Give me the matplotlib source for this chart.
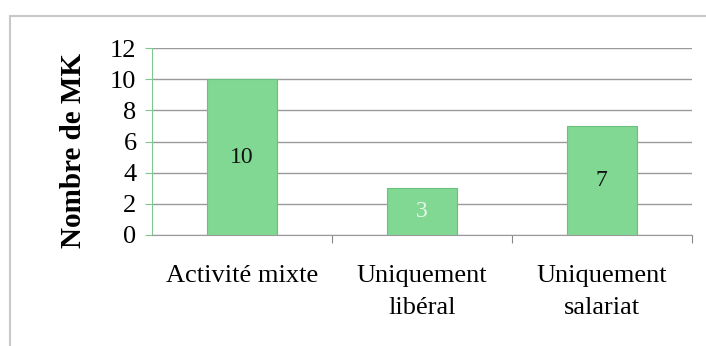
import matplotlib.pyplot as plt
from matplotlib.patches import Rectangle

# data
categories = ["Activité mixte", "Uniquement\nlibéral", "Uniquement\nsalariat"]
values = [10, 3, 7]
yticks = [0, 2, 4, 6, 8, 10, 12]

plt.rcParams['font.family'] = ['Liberation Serif', 'DejaVu Serif']

fig = plt.figure(figsize=(7.06, 3.46), dpi=100)
ax = fig.add_axes([0.215, 0.321, 0.765, 0.54])

x = range(len(categories))
bars = ax.bar(x, values, width=0.39, color='#80d892', edgecolor='#6cc07f', linewidth=0.8, zorder=3)

# value labels in the middle of the bars
for b, v in zip(bars, values):
    col = '#111111' if v != 3 else '#e6f7e9'
    ax.text(b.get_x() + b.get_width() / 2, v / 2, str(v), ha='center', va='center',
            fontsize=17, color=col, zorder=4)

ax.set_xlim(-0.5, len(categories) - 0.5)
ax.set_ylim(0, 12)
ax.set_yticks(yticks)
ax.tick_params(axis='y', labelsize=19, length=5, color='#7fc98f', pad=6)
ax.yaxis.grid(True, color='#9a9a9a', linewidth=1.0, zorder=0)

# categories sit between tick marks at the boundaries
ax.set_xticks([0.5, 1.5, 2.5])
ax.set_xticklabels([])
ax.set_xticks(list(x), minor=True)
ax.set_xticklabels(categories, minor=True, fontsize=19, linespacing=1.55)
ax.tick_params(axis='x', which='minor', length=0, pad=22)
ax.tick_params(axis='x', which='major', length=6, color='#888888')

ax.set_ylabel("Nombre de MK", fontsize=21, fontweight='bold', labelpad=8)
ax.yaxis.set_label_coords(-0.12, 0.45)

for s in ['top', 'right']:
    ax.spines[s].set_visible(False)
ax.spines['left'].set_color('#7fc98f')
ax.spines['bottom'].set_color('#9a9a9a')

# outer chart border
fig.patches.append(Rectangle((0.014, -0.05), 1.1, 1.005, transform=fig.transFigure,
                             fill=False, edgecolor='#c8c8c8', linewidth=1.5))

fig.savefig("out.png", dpi=100)
